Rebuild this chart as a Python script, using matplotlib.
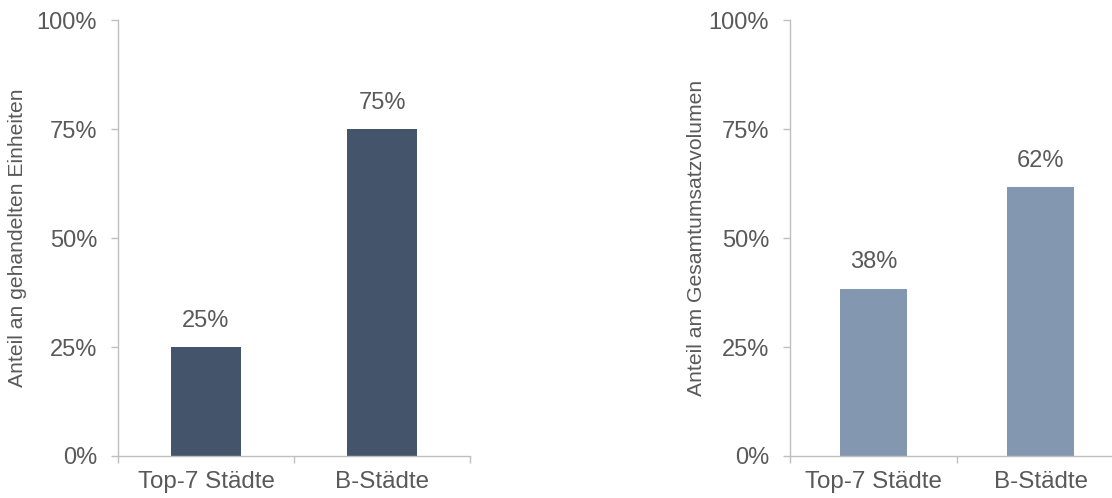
import matplotlib
matplotlib.use("Agg")
import matplotlib.pyplot as plt

# data
categories = ["Top-7 Städte", "B-Städte"]
units_share = [0.25, 0.75]
volume_share = [0.384, 0.616]
y_ticks = [0, 0.25, 0.5, 0.75, 1.0]
y_ticklabels = ["0%", "25%", "50%", "75%", "100%"]
left_ylabel = "Anteil an gehandelten Einheiten"
right_ylabel = "Anteil am Gesamtumsatzvolumen"

plt.rcParams["font.family"] = ["Liberation Sans", "DejaVu Sans"]
TEXT = "#595959"
AXIS = "#bfbfbf"

fig = plt.figure(figsize=(11.12, 4.98), dpi=100)
W, H = 1112, 498

def make_axes(x0, x1, y0, y1):
    return fig.add_axes([x0 / W, 1 - y0 / H, (x1 - x0) / W, (y0 - y1) / H])

def draw_panel(ax, values, color, ylabel, label_x):
    x = list(range(len(categories)))
    bars = ax.bar(x, values, width=0.4, color=color, zorder=2)
    for b, v in zip(bars, values):
        ax.annotate(f"{v:.0%}", (b.get_x() + b.get_width() / 2, v),
                    xytext=(0, 11), textcoords="offset points",
                    ha="center", va="bottom", fontsize=17, color=TEXT)
    ax.set_xlim(-0.5, len(categories) - 0.5)
    ax.set_ylim(0, 1)
    ax.set_yticks(y_ticks)
    ax.set_yticklabels(y_ticklabels)
    ax.set_xticks(x)
    ax.set_xticklabels(categories)
    ax.set_xticks([i - 0.5 for i in range(len(categories) + 1)], minor=True)
    ax.tick_params(axis="x", which="major", length=0, pad=11, labelsize=17.4, labelcolor=TEXT)
    ax.tick_params(axis="x", which="minor", length=5, width=1, color=AXIS)
    ax.tick_params(axis="y", length=5, width=1, color=AXIS, pad=10, labelsize=17, labelcolor=TEXT)
    for s in ["top", "right"]:
        ax.spines[s].set_visible(False)
    for s in ["left", "bottom"]:
        ax.spines[s].set_color(AXIS)
        ax.spines[s].set_linewidth(1)
    ax.set_ylabel(ylabel, fontsize=15.2, color=TEXT)
    ax.yaxis.set_label_coords(label_x, 0.5)

ax1 = make_axes(118, 470, 456, 20)
draw_panel(ax1, units_share, "#44546a", left_ylabel, -0.259)

ax2 = make_axes(790, 1124, 456, 20)
draw_panel(ax2, volume_share, "#8497b0", right_ylabel, -0.251)

fig.savefig("out.png", dpi=100)
